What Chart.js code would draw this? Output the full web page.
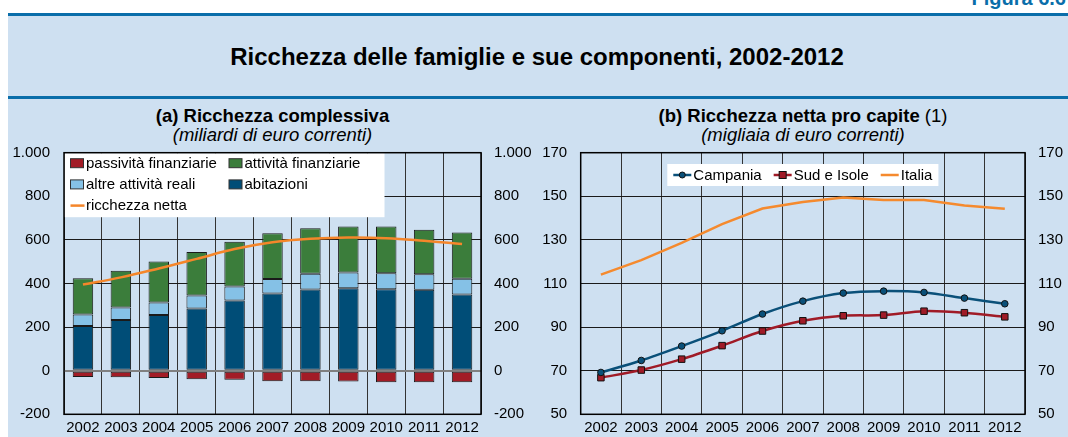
<!DOCTYPE html>
<html><head><meta charset="utf-8">
<script src="https://cdn.jsdelivr.net/npm/chart.js@4.4.1/dist/chart.umd.min.js"></script>
<style>
html,body{margin:0;padding:0;}
body{width:1068px;height:437px;overflow:hidden;background:#fff;position:relative;font-family:"Liberation Sans",Arial,sans-serif;color:#000;}
#panel{position:absolute;left:8px;top:13px;width:1060px;height:424px;background:#CEE0F1;}
.rule{position:absolute;left:8px;width:1060px;background:#0A6EAA;}
#fig{position:absolute;right:2px;top:-12px;font-weight:bold;font-size:20px;line-height:20px;color:#0A6EAA;white-space:nowrap;}
.t{position:absolute;white-space:nowrap;transform:translateX(-50%);line-height:1;}
canvas{position:absolute;}
</style>
</head><body>
<div id="panel"></div>
<div class="rule" style="top:13px;height:3px"></div>
<div class="rule" style="top:96px;height:2.5px"></div>
<div id="fig">Figura 6.6</div>
<div class="t" style="left:537px;top:45px;font-size:24px;font-weight:bold;">Ricchezza delle famiglie e sue componenti, 2002-2012</div>
<div class="t" style="left:272.5px;top:107px;font-size:18.5px;font-weight:bold;">(a) Ricchezza complessiva</div>
<div class="t" style="left:272.5px;top:125.5px;font-size:18.5px;font-style:italic;">(miliardi di euro correnti)</div>
<div class="t" style="left:803px;top:107px;font-size:18.5px;"><b>(b) Ricchezza netta pro capite</b> (1)</div>
<div class="t" style="left:803px;top:125.5px;font-size:18.5px;font-style:italic;">(migliaia di euro correnti)</div>
<canvas id="c1" width="534" height="297" style="left:0;top:140px;width:534px;height:297px"></canvas>
<canvas id="c2" width="534" height="297" style="left:534px;top:140px;width:534px;height:297px"></canvas>
<script>
// ---- data ----
const years = ['2002','2003','2004','2005','2006','2007','2008','2009','2010','2011','2012'];
const passivitaFinanziarie = [-29,-30,-34,-39,-42,-48,-48,-50,-53,-53,-53];
const abitazioni = [205,232,256,285,322,354,372,378,374,371,350];
const altreAttivitaReali = [53,58,57,60,64,67,73,72,73,72,72];
const attivitaFinanziarie = [166,168,188,199,206,209,209,212,214,204,212];
const ricchezzaNetta = [395,428,469,513,558,589,605,611,608,596,581];
const campania = [69.2,74.7,81.3,88.3,96.0,101.9,105.6,106.5,105.9,103.3,100.7];
const sudIsole = [66.8,70.3,75.3,81.5,88.2,92.9,95.2,95.5,97.3,96.6,94.7];
const italia = [114.1,120.7,128.6,137.2,144.4,147.4,149.5,148.3,148.3,145.8,144.3];

const FONT = '"Liberation Sans", Arial, sans-serif';
Chart.defaults.font.family = FONT;
Chart.defaults.color = '#000';
const C = {pass:'#A21C26', fin:'#3B7D3B', altre:'#85C1E6', abit:'#004D77', net:'#F5862A',
           camp:'#0A5079', sud:'#A01B27', ita:'#F58A2E'};

function fmt(v){ return String(v).replace(/\B(?=(\d{3})+(?!\d))/g,'.'); }
function fixY(w){ return s => { s.width = w; s.paddingTop = 9; s.paddingBottom = 9; }; }

const framePlugin = {id:'frame', afterDatasetsDraw(chart){
  const {ctx, chartArea:a} = chart;
  ctx.save(); ctx.strokeStyle='#000'; ctx.lineWidth=1.5;
  ctx.strokeRect(a.left, a.top, a.right-a.left, a.bottom-a.top);
  ctx.restore();
}};

const legendA = {id:'legendA', beforeDatasetsDraw(chart){
  const {ctx, chartArea:a} = chart;
  ctx.save();
  ctx.fillStyle='#fff'; ctx.fillRect(a.left+0.5, a.top+0.5, 320, 64);
  const items = [{ds:3,col:0,row:0},{ds:2,col:1,row:0},{ds:1,col:0,row:1},{ds:0,col:1,row:1},{ds:4,col:0,row:2}];
  ctx.font = '15px '+FONT; ctx.textBaseline='middle'; ctx.textAlign='left';
  items.forEach(it=>{
    const d = chart.data.datasets[it.ds];
    const x = a.left + 6.5 + it.col*158.5, y = a.top + 10.5 + it.row*21.2;
    if (d.type === 'line') {
      ctx.strokeStyle = d.borderColor; ctx.lineWidth = 2.5;
      ctx.beginPath(); ctx.moveTo(x, y); ctx.lineTo(x+14, y); ctx.stroke();
    } else {
      ctx.fillStyle = d.backgroundColor; ctx.fillRect(x, y-4.5, 13, 9);
      ctx.strokeStyle = '#333'; ctx.lineWidth = 1; ctx.strokeRect(x, y-4.5, 13, 9);
    }
    ctx.fillStyle = '#000'; ctx.fillText(d.label, x+15.5, y+0.5);
  });
  ctx.restore();
}};

const legendB = {id:'legendB', beforeDatasetsDraw(chart){
  const {ctx, chartArea:a} = chart;
  ctx.save();
  ctx.font = '15px '+FONT; ctx.textBaseline='middle'; ctx.textAlign='left';
  const order = [0,1,2];
  const mk = 18, gap = 2, sep = 12;
  const widths = order.map(i => mk + gap + ctx.measureText(chart.data.datasets[i].label).width);
  const total = widths.reduce((s,w)=>s+w,0) + sep*(order.length-1);
  let x = (a.left + a.right)/2 - total/2;
  const y = a.top + 22.3;
  ctx.fillStyle = '#fff'; ctx.fillRect(x-6, y-11, total+12, 22);
  order.forEach((i,k)=>{
    const d = chart.data.datasets[i];
    ctx.strokeStyle = d.borderColor; ctx.lineWidth = 2.5;
    ctx.beginPath(); ctx.moveTo(x, y); ctx.lineTo(x+mk, y); ctx.stroke();
    if (d.pointStyle === 'circle') {
      ctx.beginPath(); ctx.arc(x+mk/2, y, 3, 0, Math.PI*2);
      ctx.fillStyle = d.pointBackgroundColor; ctx.fill();
      ctx.strokeStyle='#111'; ctx.lineWidth=1; ctx.stroke();
    } else if (d.pointStyle === 'rect') {
      ctx.fillStyle = d.pointBackgroundColor; ctx.fillRect(x+mk/2-3.5, y-3.5, 7, 7);
      ctx.strokeStyle='#111'; ctx.lineWidth=1; ctx.strokeRect(x+mk/2-3.5, y-3.5, 7, 7);
    }
    ctx.fillStyle = '#000'; ctx.fillText(d.label, x+mk+gap, y+0.5);
    x += widths[k] + sep;
  });
  ctx.restore();
}};

const tickFont = {size:15, family:FONT};

// ---- chart (a) ----
new Chart(document.getElementById('c1'), {
  type:'bar',
  data:{labels:years, datasets:[
    {label:'abitazioni', data:abitazioni, backgroundColor:C.abit, borderColor:'#1a1a1a', borderWidth:1, borderSkipped:false, stack:'s', order:1},
    {label:'altre attività reali', data:altreAttivitaReali, backgroundColor:C.altre, borderColor:'#1a1a1a', borderWidth:1, borderSkipped:false, stack:'s', order:1},
    {label:'attività finanziarie', data:attivitaFinanziarie, backgroundColor:C.fin, borderColor:'#1a1a1a', borderWidth:1, borderSkipped:false, stack:'s', order:1},
    {label:'passività finanziarie', data:passivitaFinanziarie, backgroundColor:C.pass, borderColor:'#1a1a1a', borderWidth:1, borderSkipped:false, stack:'s', order:1},
    {type:'line', label:'ricchezza netta', data:ricchezzaNetta, borderColor:C.net, backgroundColor:C.net, borderWidth:2.5, pointRadius:0, tension:0.4, stack:'net', order:0}
  ]},
  options:{
    responsive:false, animation:false, devicePixelRatio:1,
    layout:{padding:{top:12.7,left:0,right:0,bottom:0}},
    datasets:{bar:{barPercentage:0.54, categoryPercentage:1}},
    plugins:{legend:{display:false}, tooltip:{enabled:false}},
    scales:{
      x:{stacked:true, offset:true, grid:{offset:true, color:'#333', lineWidth:1, drawTicks:false}, border:{display:false},
         ticks:{font:tickFont, padding:5, maxRotation:0, autoSkip:false, color:'#000'}, afterFit:s=>{s.height=22.7;}},
      y:{stacked:true, position:'left', min:-200, max:1000,
         grid:{drawTicks:false, color:c=>c.tick && c.tick.value===0 ? '#808080' : '#1a1a1a', lineWidth:c=>c.tick && c.tick.value===0 ? 2 : 1},
         border:{display:false},
         ticks:{stepSize:200, font:tickFont, padding:14, color:'#000', callback:v=>fmt(v)}, afterFit:fixY(64)},
      y2:{position:'right', min:-200, max:1000, grid:{display:false, drawTicks:false}, border:{display:false},
         ticks:{stepSize:200, font:tickFont, padding:13, color:'#000', callback:v=>fmt(v)}, afterFit:fixY(53)}
    }
  },
  plugins:[legendA, framePlugin]
});

// ---- chart (b) ----
new Chart(document.getElementById('c2'), {
  type:'line',
  data:{labels:years, datasets:[
    {label:'Campania', data:campania, borderColor:C.camp, backgroundColor:C.camp, borderWidth:2.5, tension:0.3,
     pointStyle:'circle', pointRadius:3.3, pointBackgroundColor:C.camp, pointBorderColor:'#111', pointBorderWidth:1},
    {label:'Sud e Isole', data:sudIsole, borderColor:C.sud, backgroundColor:C.sud, borderWidth:2.5, tension:0.3,
     pointStyle:'rect', pointRadius:4.6, pointBackgroundColor:C.sud, pointBorderColor:'#111', pointBorderWidth:1},
    {label:'Italia', data:italia, borderColor:C.ita, backgroundColor:C.ita, borderWidth:2.5, tension:0, pointRadius:0}
  ]},
  options:{
    responsive:false, animation:false, devicePixelRatio:1,
    layout:{padding:{top:12.7,left:0,right:0,bottom:0}},
    plugins:{legend:{display:false}, tooltip:{enabled:false}},
    scales:{
      x:{offset:true, grid:{offset:true, color:'#333', lineWidth:1, drawTicks:false}, border:{display:false},
         ticks:{font:tickFont, padding:5, maxRotation:0, autoSkip:false, color:'#000'}, afterFit:s=>{s.height=22.7;}},
      y:{position:'left', min:50, max:170, grid:{drawTicks:false, color:'#1a1a1a', lineWidth:1}, border:{display:false},
         ticks:{stepSize:20, font:tickFont, padding:13.5, color:'#000'}, afterFit:fixY(46.7)},
      y2:{position:'right', min:50, max:170, grid:{display:false, drawTicks:false}, border:{display:false},
         ticks:{stepSize:20, font:tickFont, padding:13, color:'#000'}, afterFit:fixY(43)}
    }
  },
  plugins:[legendB, framePlugin]
});
</script>
</body></html>
